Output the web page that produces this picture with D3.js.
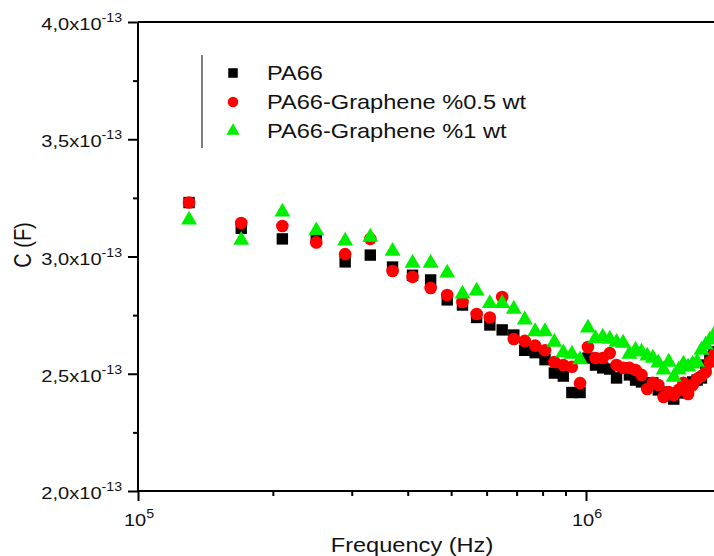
<!DOCTYPE html>
<html>
<head>
    <title>C vs Frequency</title>
    <script src="https://d3js.org/d3.v7.min.js"></script>
    <style>
        body { margin: 0; background: #fff; }
        text { font-family: "Liberation Sans", Arial, sans-serif; fill: #111; }
    </style>
</head>
<body>
<div id="chart"></div>
<script>
    // Frequency (Hz), equal 40 kHz steps as measured
    const freq = [130e3, 170e3, 210e3, 250e3, 290e3, 330e3, 370e3, 410e3, 450e3, 490e3,
        530e3, 570e3, 610e3, 650e3, 690e3, 730e3, 770e3, 810e3, 850e3, 890e3,
        930e3, 970e3, 1010e3, 1050e3, 1090e3, 1130e3, 1170e3, 1210e3, 1250e3, 1290e3,
        1330e3, 1370e3, 1410e3, 1450e3, 1490e3, 1530e3, 1570e3, 1610e3, 1650e3, 1690e3,
        1730e3, 1770e3, 1810e3, 1850e3, 1890e3, 1930e3];

    // Capacitance in units of 1e-13 F
    const pa66 = [3.23, 3.12, 3.075, 3.08, 2.977, 3.006, 2.955, 2.92, 2.90, 2.815,
        2.793, 2.74, 2.708, 2.687, 2.665, 2.60, 2.59, 2.56, 2.503, 2.49,
        2.42, 2.42, 2.567, 2.537, 2.525, 2.52, 2.482, 2.525, 2.495, 2.473,
        2.465, 2.461, 2.461, 2.431, 2.422, 2.409, 2.392, 2.418, 2.431, 2.439,
        2.465, 2.473, 2.482, 2.537, 2.571, 2.593];
    const pa66g05 = [3.23, 3.143, 3.13, 3.06, 3.01, 3.075, 2.938, 2.913, 2.866, 2.836,
        2.806, 2.755, 2.74, 2.827, 2.648, 2.64, 2.62, 2.60, 2.55, 2.537,
        2.53, 2.46, 2.614, 2.567, 2.567, 2.588, 2.537, 2.525, 2.525, 2.516,
        2.495, 2.435, 2.461, 2.452, 2.401, 2.422, 2.409, 2.431, 2.461, 2.414,
        2.452, 2.478, 2.49, 2.507, 2.55, 2.58];
    const pa66g1 = [3.156, 3.07, 3.19, 3.11, 3.066, 3.083, 3.023, 2.972, 2.972, 2.93,
        2.84, 2.853, 2.80, 2.80, 2.776, 2.73, 2.68, 2.68, 2.635, 2.59,
        2.584, 2.56, 2.695, 2.65, 2.657, 2.648, 2.635, 2.631, 2.584, 2.601,
        2.593, 2.576, 2.567, 2.546, 2.516, 2.55, 2.486, 2.516, 2.542, 2.529,
        2.542, 2.55, 2.601, 2.623, 2.644, 2.665];

    const seriesNames = ["PA66", "PA66-Graphene %0.5 wt", "PA66-Graphene %1 wt"];
    const yTicks = [2.0, 2.5, 3.0, 3.5, 4.0];
    const xTicks = [1e5, 1e6];

    const W = 714, H = 556;
    const padLeft = 138, padTop = 22, axisBottom = 491;
    const sx = 1.18; // the original figure is stretched sideways

    const x = d3.scaleLog().domain([1e5, 2e6]).range([padLeft, padLeft + 448 * Math.log10(20)]);
    const y = d3.scaleLinear().domain([2, 4]).range([axisBottom, padTop]);

    const svg = d3.select("#chart").append("svg")
        .attr("width", W)
        .attr("height", H);

    // data
    const series = [
        { name: seriesNames[0], vals: pa66, color: "#000000", shape: d3.symbolSquare, size: 130 },
        { name: seriesNames[1], vals: pa66g05, color: "#ff0000", shape: d3.symbolCircle, size: 125 },
        { name: seriesNames[2], vals: pa66g1, color: "#00ee00", shape: d3.symbolTriangle, size: 110 }
    ];

    series.forEach(s => {
        svg.append("g").selectAll("path")
            .data(freq.map((f, i) => [f, s.vals[i]]))
            .enter().append("path")
            .attr("d", d3.symbol().type(s.shape).size(s.size))
            .attr("transform", d => "translate(" + x(d[0]) + "," + y(d[1]) + ")")
            .attr("fill", s.color);
    });

    // y axis
    const yAxis = svg.append("g")
        .attr("transform", "translate(" + padLeft + ",0)")
        .call(d3.axisLeft(y).tickValues(d3.range(2, 4.01, 0.25)).tickSize(10).tickFormat(""));
    yAxis.select(".domain").attr("stroke-width", 2).attr("d", "M0," + padTop + "V" + axisBottom);
    yAxis.selectAll(".tick line")
        .attr("stroke-width", 2)
        .attr("x2", d => Math.abs(d * 2 - Math.round(d * 2)) < 1e-6 ? -10 : -5);

    yAxis.selectAll(".ylab")
        .data(yTicks)
        .enter().append("text")
        .attr("class", "ylab")
        .attr("transform", d => "translate(-16," + (y(d) + 8) + ") scale(" + sx + ",1)")
        .attr("text-anchor", "end")
        .style("font-size", "17px")
        .each(function (d) {
            const t = d3.select(this);
            t.append("tspan").text(d.toFixed(1).replace(".", ",") + "x10");
            t.append("tspan").attr("dy", -8).style("font-size", "12px").text("-13");
        });

    // x axis
    const minor = d3.range(2, 10).map(k => k * 1e5);
    const xAxis = svg.append("g")
        .attr("transform", "translate(0," + axisBottom + ")")
        .call(d3.axisBottom(x).tickValues(xTicks.concat(minor)).tickSize(10).tickFormat(""));
    xAxis.select(".domain").attr("stroke-width", 2).attr("d", "M" + padLeft + ",0H" + (W + 10));
    xAxis.selectAll(".tick line")
        .attr("stroke-width", 2)
        .attr("y2", d => xTicks.includes(d) ? 10 : 5);

    xAxis.selectAll(".xlab")
        .data(xTicks)
        .enter().append("text")
        .attr("class", "xlab")
        .attr("transform", d => "translate(" + (x(d) + 1) + ",35) scale(" + sx + ",1)")
        .attr("text-anchor", "middle")
        .style("font-size", "17px")
        .each(function (d) {
            const t = d3.select(this);
            t.append("tspan").text("10");
            t.append("tspan").attr("dy", -8).style("font-size", "12px").text(Math.round(Math.log10(d)));
        });

    // top frame line
    svg.append("line")
        .attr("x1", padLeft).attr("x2", W + 10)
        .attr("y1", padTop).attr("y2", padTop)
        .attr("stroke", "#000").attr("stroke-width", 2);

    // axis titles
    svg.append("text")
        .attr("transform", "translate(412,552) scale(" + sx + ",1)")
        .attr("text-anchor", "middle")
        .style("font-size", "20px")
        .text("Frequency (Hz)");

    svg.append("text")
        .attr("transform", "translate(31,245) rotate(-90) scale(1," + sx + ")")
        .attr("text-anchor", "middle")
        .style("font-size", "20px")
        .text("C (F)");

    // legend
    const legend = svg.append("g");
    legend.append("line")
        .attr("x1", 202).attr("x2", 202)
        .attr("y1", 55).attr("y2", 148)
        .attr("stroke", "#000").attr("stroke-width", 1);

    series.forEach((s, i) => {
        const yy = 73 + i * 29;
        legend.append("path")
            .attr("d", d3.symbol().type(s.shape).size(s.size * 0.7))
            .attr("transform", "translate(233," + yy + ")")
            .attr("fill", s.color);
        legend.append("text")
            .attr("transform", "translate(267," + (yy + 7) + ") scale(" + sx + ",1)")
            .style("font-size", "20px")
            .text(s.name);
    });
</script>
</body>
</html>
